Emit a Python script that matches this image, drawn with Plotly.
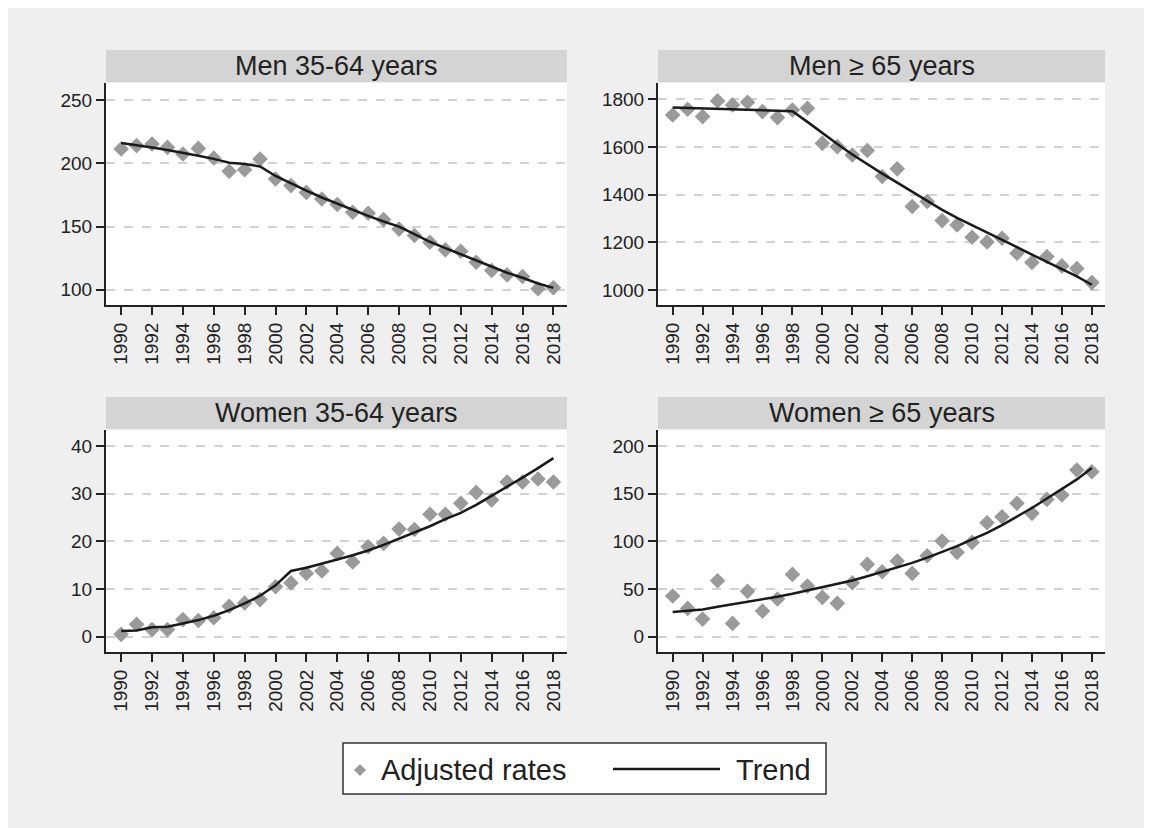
import plotly.graph_objects as go

W, H = 1152, 828
OFF = 8  # page offset of the figure (browser body margin)

years = list(range(1990, 2019))
tick_years = list(range(1990, 2019, 2))

panel_titles = ["Men 35-64 years", "Men \u2265 65 years", "Women 35-64 years", "Women \u2265 65 years"]

men_35_64_rates = [211.3, 214.0, 215.3, 212.6, 207.4, 211.8, 204.2, 193.7, 195.0, 203.4,
                   187.6, 182.4, 177.0, 171.8, 167.4, 161.3, 160.5, 155.5, 148.0, 143.0,
                   137.6, 131.6, 130.5, 121.8, 115.3, 111.8, 110.5, 100.8, 101.6]
men_35_64_trend = [216.0, 214.5, 212.5, 210.5, 208.5, 206.0, 203.5, 200.5, 199.5, 197.5,
                   190.0, 184.0, 178.5, 173.0, 168.0, 163.0, 158.5, 154.0, 150.0, 144.0,
                   138.0, 133.0, 128.0, 123.0, 118.0, 113.5, 109.5, 105.0, 101.5]

men_65_rates = [1734, 1758, 1727, 1793, 1776, 1787, 1748, 1723, 1755, 1762,
                1615, 1601, 1566, 1585, 1476, 1508, 1350, 1371, 1291, 1273,
                1221, 1201, 1217, 1154, 1115, 1140, 1101, 1090, 1031]
men_65_trend = [1765, 1763, 1761, 1759, 1755, 1754, 1753, 1752, 1750, 1705,
                1658, 1612, 1568, 1527, 1488, 1450, 1412, 1375, 1336, 1302,
                1272, 1242, 1212, 1180, 1148, 1118, 1090, 1057, 1022]

women_35_64_rates = [0.5, 2.6, 1.5, 1.5, 3.6, 3.4, 4.0, 6.4, 7.1, 7.8,
                     10.5, 11.3, 13.3, 13.8, 17.5, 15.7, 18.9, 19.6, 22.6, 22.5,
                     25.7, 25.7, 28.0, 30.3, 28.7, 32.5, 32.5, 33.1, 32.5]
women_35_64_trend = [1.2, 1.3, 2.0, 2.1, 2.8, 3.5, 4.4, 5.6, 7.0, 8.6,
                     10.8, 13.8, 14.5, 15.3, 16.2, 17.1, 18.1, 19.3, 20.6, 21.9,
                     23.2, 24.7, 26.0, 27.7, 29.6, 31.4, 33.4, 35.4, 37.5]

women_65_rates = [42.7, 29.7, 18.5, 58.7, 14.0, 47.6, 26.9, 39.5, 65.4, 53.1,
                  41.3, 35.0, 56.6, 75.9, 68.2, 79.4, 66.4, 85.0, 100.3, 88.5,
                  99.0, 119.6, 125.9, 139.9, 129.4, 144.0, 148.6, 174.8, 173.0]
women_65_trend = [26.0, 27.0, 28.5, 31.5, 34.0, 37.0, 39.5, 42.0, 45.0, 48.5,
                  52.0, 55.5, 59.0, 63.5, 68.0, 72.5, 77.5, 83.0, 89.0, 95.0,
                  102.0, 109.0, 117.0, 126.0, 135.0, 145.0, 155.0, 165.0, 177.0]

y_ticks = [[100, 150, 200, 250], [1000, 1200, 1400, 1600, 1800],
           [0, 10, 20, 30, 40], [0, 50, 100, 150, 200]]
y_ranges = [[88, 263.5], [937, 1868], [-3.2, 43.4], [-16, 216.8]]

rates = [men_35_64_rates, men_65_rates, women_35_64_rates, women_65_rates]
trends = [men_35_64_trend, men_65_trend, women_35_64_trend, women_65_trend]

legend_labels = ["Adjusted rates", "Trend"]

MARKER_COLOR = "#9a9a9a"
LINE_COLOR = "#1a1a1a"
TEXT_COLOR = "#222222"
FONT = "Arial, Liberation Sans, sans-serif"


def px(x):
    return (x - OFF) / W


def py(y):
    return 1 - (y - OFF) / H


# panel boxes in page pixels: (left, right, top, bottom) of plot area, strip top
panels = [
    (106, 567, 83, 305, 50),
    (658, 1105, 83, 305, 50),
    (106, 567, 430, 652, 397),
    (658, 1105, 430, 652, 397),
]

fig = go.Figure()
shapes = []
annotations = []

for i, (l, r, t, b, st) in enumerate(panels):
    n = i + 1
    xa = "x" if n == 1 else f"x{n}"
    ya = "y" if n == 1 else f"y{n}"
    fig.add_trace(go.Scatter(
        x=years, y=rates[i], mode="markers", xaxis=xa, yaxis=ya,
        marker=dict(symbol="diamond", size=12, color=MARKER_COLOR),
        name=legend_labels[0], showlegend=False, cliponaxis=False))
    fig.add_trace(go.Scatter(
        x=years, y=trends[i], mode="lines", xaxis=xa, yaxis=ya,
        line=dict(color=LINE_COLOR, width=2.5),
        name=legend_labels[1], showlegend=False))

    axis_common = dict(
        showline=True, linecolor="#222222", linewidth=2,
        ticks="outside", ticklen=8, tickwidth=1.5, tickcolor="#222222",
        tickfont=dict(size=19, color=TEXT_COLOR, family=FONT),
        zeroline=False, automargin=False,
    )
    fig.layout[f"xaxis{'' if n == 1 else n}"] = dict(
        domain=[px(l), px(r)], anchor=ya, range=[1989.02, 2018.88],
        tickvals=tick_years, ticktext=[str(v) for v in tick_years],
        tickangle=-90, showgrid=False, **axis_common)
    fig.layout[f"yaxis{'' if n == 1 else n}"] = dict(
        domain=[py(b), py(t)], anchor=xa, range=y_ranges[i],
        tickvals=y_ticks[i], showgrid=True, gridcolor="#d2d2d2",
        gridwidth=1.5, griddash="dash", **axis_common)

    # title strip
    shapes.append(dict(type="rect", xref="paper", yref="paper",
                       x0=px(l), x1=px(r), y0=py(t - 1), y1=py(st),
                       fillcolor="#d4d4d4", line=dict(width=0), layer="below"))
    annotations.append(dict(xref="paper", yref="paper", x=px((l + r) / 2),
                            y=py((st + t - 1) / 2), text=panel_titles[i],
                            showarrow=False, xanchor="center", yanchor="middle",
                            font=dict(size=27, color=TEXT_COLOR, family=FONT)))

# legend box
shapes.append(dict(type="rect", xref="paper", yref="paper",
                   x0=px(343), x1=px(826), y0=py(794), y1=py(743),
                   fillcolor="white", line=dict(color="#333333", width=1.5)))
cx, cy, d = 360, 770, 6
shapes.append(dict(type="path", xref="paper", yref="paper",
                   path=f"M {px(cx)} {py(cy - d)} L {px(cx + d)} {py(cy)} L {px(cx)} {py(cy + d)} L {px(cx - d)} {py(cy)} Z",
                   fillcolor=MARKER_COLOR, line=dict(width=0)))
shapes.append(dict(type="line", xref="paper", yref="paper",
                   x0=px(613), x1=px(720), y0=py(769), y1=py(769),
                   line=dict(color=LINE_COLOR, width=2.5)))
annotations.append(dict(xref="paper", yref="paper", x=px(379), y=py(770),
                        text=legend_labels[0], showarrow=False,
                        xanchor="left", yanchor="middle",
                        font=dict(size=29, color=TEXT_COLOR, family=FONT)))
annotations.append(dict(xref="paper", yref="paper", x=px(813), y=py(770),
                        text=legend_labels[1], showarrow=False,
                        xanchor="right", yanchor="middle",
                        font=dict(size=29, color=TEXT_COLOR, family=FONT)))

fig.update_layout(
    width=W, height=H,
    margin=dict(l=0, r=0, t=0, b=0),
    paper_bgcolor="#efefef", plot_bgcolor="white",
    shapes=shapes, annotations=annotations,
    showlegend=False,
    font=dict(family=FONT, color=TEXT_COLOR),
)

fig.write_html("out.html")
